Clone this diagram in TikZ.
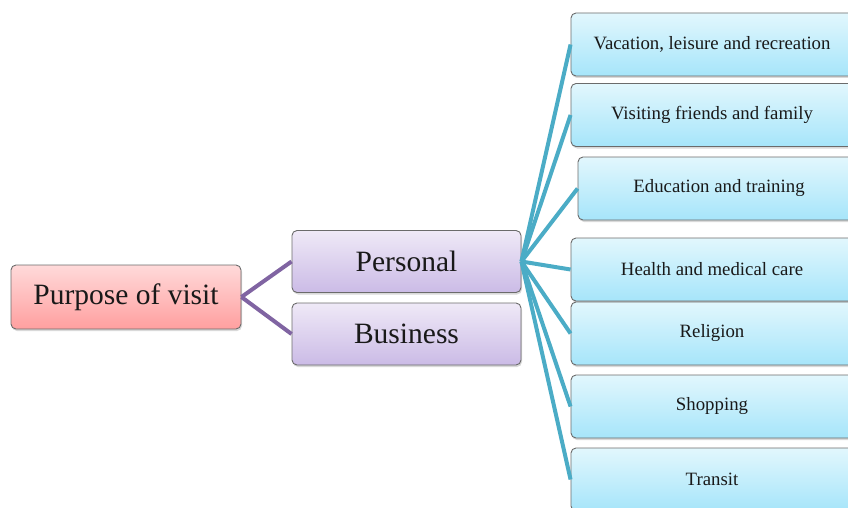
\documentclass[tikz,border=0pt]{standalone}
\usepackage{fontspec}
\setmainfont{Liberation Serif}
\usepackage{tikz}
\usetikzlibrary{shadows}
\definecolor{linkpurple}{HTML}{8064A2}
\definecolor{linkteal}{HTML}{4BACC6}
\definecolor{pinktop}{HTML}{FFDADA}
\definecolor{pinkbottom}{HTML}{FF9F9F}
\definecolor{lilactop}{HTML}{EFE9F7}
\definecolor{lilacbottom}{HTML}{CBBBE6}
\definecolor{skytop}{HTML}{E2F7FD}
\definecolor{skybottom}{HTML}{A6E5FA}
\tikzset{
  box/.style={draw=black!58, line width=0.9pt, rounded corners=5pt, inner sep=0pt,
    text=black!90, drop shadow={opacity=0.3, shadow xshift=1pt, shadow yshift=-2pt}},
  rootbox/.style={box, top color=pinktop, bottom color=pinkbottom,
    minimum width=230pt, minimum height=64pt, font=\fontsize{29.5}{33}\selectfont},
  kindbox/.style={box, top color=lilactop, bottom color=lilacbottom,
    minimum width=229pt, minimum height=62pt, font=\fontsize{29.5}{33}\selectfont},
  reasonbox/.style={box, top color=skytop, bottom color=skybottom,
    minimum width=282pt, minimum height=63pt, font=\fontsize{18.8}{22}\selectfont},
  purplelink/.style={linkpurple, line width=4pt},
  teallink/.style={linkteal, line width=4pt}
}

\begin{document}
\begin{tikzpicture}[x=1pt, y=-1pt]
\useasboundingbox (0,0) rectangle (848,508);
\node[rootbox] (purpose) at (126,297) {Purpose of visit};
\node[kindbox] (personal) at (406.5,261.5) {Personal};
\node[kindbox] (business) at (406.5,334) {Business};
\node[reasonbox] (vacation) at (712,44.5) {Vacation, leisure and recreation};
\node[reasonbox] (friends) at (712,115) {Visiting friends and family};
\node[reasonbox] (education) at (719,188.5) {Education and training};
\node[reasonbox] (health) at (712,269.5) {Health and medical care};
\node[reasonbox] (religion) at (712,333.5) {Religion};
\node[reasonbox] (shopping) at (712,406.5) {Shopping};
\node[reasonbox] (transit) at (712,479.5) {Transit};
% links
\draw[purplelink] (purpose.east) -- (personal.west);
\draw[purplelink] (purpose.east) -- (business.west);
\draw[teallink] (personal.east) -- (vacation.west);
\draw[teallink] (personal.east) -- (friends.west);
\draw[teallink] (personal.east) -- (education.west);
\draw[teallink] (personal.east) -- (health.west);
\draw[teallink] (personal.east) -- (religion.west);
\draw[teallink] (personal.east) -- (shopping.west);
\draw[teallink] (personal.east) -- (transit.west);
\end{tikzpicture}
\end{document}
